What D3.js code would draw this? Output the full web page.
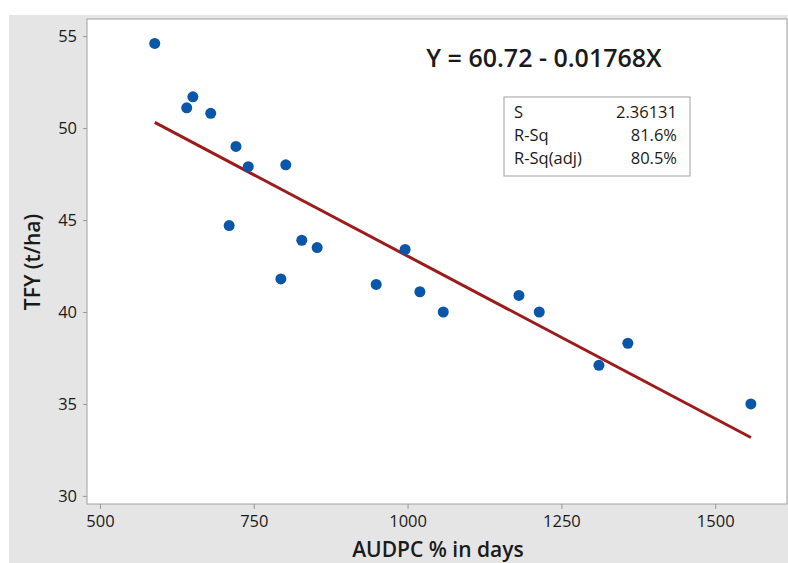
<!DOCTYPE html>
<html>
<head>
<meta charset="utf-8">
<script src="https://cdn.jsdelivr.net/npm/d3@7"></script>
<style>
  body { margin: 0; background: #fff; }
  text { font-family: "Open Sans", "Noto Sans", sans-serif; fill: #1a1a1a; }
</style>
</head>
<body>
<svg id="chart" width="788" height="563"></svg>
<script>
// AUDPC (x) vs TFY (y)
var audpc = [589, 641, 651, 680, 721, 710, 741, 802, 794, 828, 853, 949, 996, 1020, 1058, 1181, 1214, 1311, 1358, 1558];
var tfy   = [54.6, 51.1, 51.7, 50.8, 49.0, 44.7, 47.9, 48.0, 41.8, 43.9, 43.5, 41.5, 43.4, 41.1, 40.0, 40.9, 40.0, 37.1, 38.3, 35.0];

var xTicks = [500, 750, 1000, 1250, 1500];
var yTicks = [30, 35, 40, 45, 50, 55];

// fitted line Y = 60.72 - 0.01768X
var intercept = 60.72, slope = -0.01768;
var statLabels = ["S", "R-Sq", "R-Sq(adj)"];
var statValues = ["2.36131", "81.6%", "80.5%"];

var svg = d3.select("#chart");
var plot = { left: 87, top: 19, right: 787, bottom: 504 };

// grey panel behind the plot
svg.append("rect").attr("x", 9).attr("y", 15).attr("width", 779).attr("height", 548).attr("fill", "#e5e5e5");

var x = d3.scaleLinear().domain([478.9, 1616.7]).range([plot.left, plot.right]);
var y = d3.scaleLinear().domain([29.56, 55.93]).range([plot.bottom, plot.top]);

svg.append("rect")
  .attr("x", plot.left).attr("y", plot.top)
  .attr("width", plot.right - plot.left).attr("height", plot.bottom - plot.top)
  .attr("fill", "#fff").attr("stroke", "#a0a0a0").attr("stroke-width", 1);

var xAxis = svg.append("g").attr("transform", "translate(0," + plot.bottom + ")")
  .call(d3.axisBottom(x).tickValues(xTicks).tickFormat(d3.format("d")).tickSize(5).tickSizeOuter(0).tickPadding(6));
var yAxis = svg.append("g").attr("transform", "translate(" + plot.left + ",0)")
  .call(d3.axisLeft(y).tickValues(yTicks).tickFormat(d3.format("d")).tickSize(4).tickSizeOuter(0).tickPadding(6));

[xAxis, yAxis].forEach(function(g) {
  g.select(".domain").remove();
  g.selectAll("line").attr("stroke", "#999");
  g.selectAll("text").style("font-family", "Open Sans").style("font-size", "16.5px").attr("fill", "#1a1a1a");
});

// regression line across the data range
var xr = d3.extent(audpc);
svg.append("line")
  .attr("x1", x(xr[0])).attr("y1", y(intercept + slope * xr[0]))
  .attr("x2", x(xr[1])).attr("y2", y(intercept + slope * xr[1]))
  .attr("stroke", "#9c1c1c").attr("stroke-width", 3);

svg.append("g").selectAll("circle")
  .data(audpc)
  .enter().append("circle")
  .attr("cx", function(d) { return x(d); })
  .attr("cy", function(d, i) { return y(tfy[i]); })
  .attr("r", 5.5)
  .attr("fill", "#0a56a8");

svg.append("text")
  .attr("x", 544).attr("y", 67)
  .attr("text-anchor", "middle")
  .style("font-size", "25px").style("font-weight", 600)
  .text("Y = 60.72 - 0.01768X");

// stats box
var box = svg.append("g").attr("transform", "translate(504,97)");
box.append("rect").attr("width", 186).attr("height", 79)
  .attr("fill", "#fff").attr("stroke", "#a0a0a0");
statLabels.forEach(function(s, i) {
  box.append("text").attr("x", 10).attr("y", 21 + i * 23)
    .style("font-size", "16.5px").text(s);
  box.append("text").attr("x", 173).attr("y", 21 + i * 23)
    .attr("text-anchor", "end").style("font-size", "16.5px").text(statValues[i]);
});

svg.append("text")
  .attr("x", 438).attr("y", 557)
  .attr("text-anchor", "middle")
  .style("font-size", "21px").style("font-weight", 600)
  .text("AUDPC % in days");

svg.append("text")
  .attr("transform", "translate(40,262) rotate(-90)")
  .attr("text-anchor", "middle")
  .style("font-size", "21px").style("font-weight", 600)
  .text("TFY (t/ha)");
</script>
</body>
</html>
